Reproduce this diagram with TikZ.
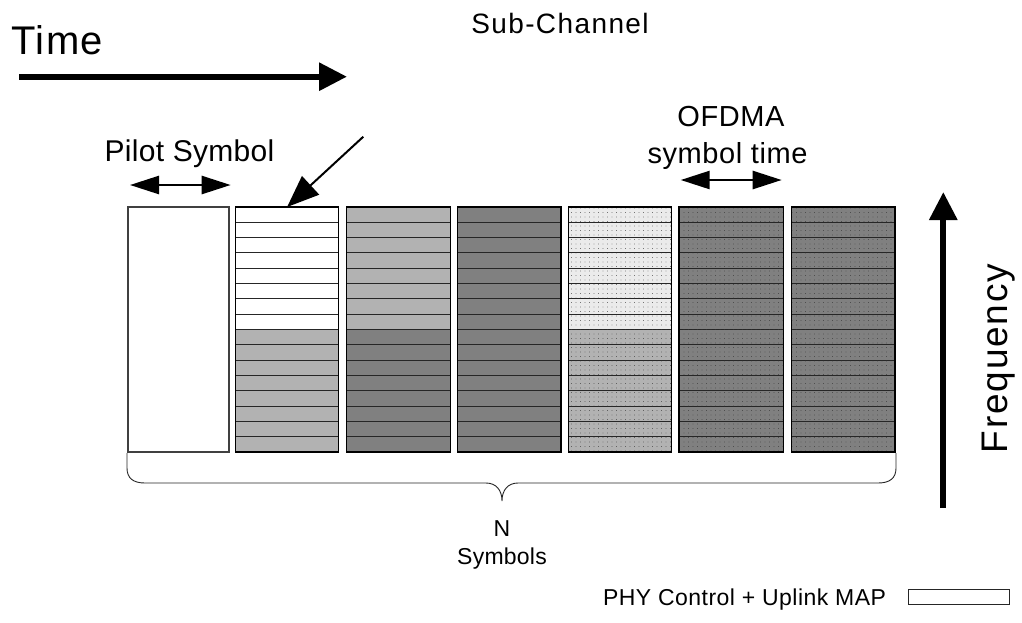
\documentclass[tikz,border=0pt]{standalone}
\usepackage{fontspec}
\setmainfont{Liberation Sans}
\usetikzlibrary{arrows.meta,patterns.meta}
\newcommand\fsz[2]{\fontsize{#1pt}{#1pt}\selectfont\addfontfeatures{LetterSpace=#2}}
\definecolor{gA}{gray}{0.70}
\definecolor{gB}{gray}{0.50}
\definecolor{gC}{gray}{0.92}
\newcommand\sh{15.3125}
\newcommand\stripecol[5]{%
  \foreach \k in {0,...,7}{\path[stripe,#4] (#2,{207+\k*\sh}) rectangle (#3,{207+(\k+1)*\sh});}
  \foreach \k in {8,...,15}{\path[stripe,#5] (#2,{207+\k*\sh}) rectangle (#3,{207+(\k+1)*\sh});}
  \node[colbox,minimum width={#3-#2},minimum height=245] (#1) at ({(#2+#3)/2},329.5) {};
}
\begin{document}
\begin{tikzpicture}[x=1pt,y=-1pt,
  every node/.style={inner sep=0,outer sep=0},
  stripe/.style={draw=black!85,line width=0.9},
  colbox/.style={draw=black,line width=1.2},
  sW/.style={fill=white},
  sA/.style={fill=gA},
  sB/.style={fill=gB},
  dots/.style={postaction={pattern={Dots[distance=4.5pt,radius=0.45pt]},pattern color=black!80}},
  dC/.style={fill=gC,dots},
  dA/.style={fill=gA,dots},
  dB/.style={fill=gB,dots},
  bigarrow/.style={line width=6,-{Triangle[length=28pt,width=27pt]}},
  dblarrow/.style={line width=2.5,{Triangle[length=29pt,width=18pt]}-{Triangle[length=29pt,width=18pt]}},
  lbl/.style={anchor=base}]
\useasboundingbox (0,0) rectangle (1022,622);
\fill[white] (0,0) rectangle (1022,622);

% pilot column
\node[draw=black!75,line width=1.2,fill=white,minimum width=101,minimum height=245] (pilot) at (178.5,329.5) {};
\stripecol{c1}{235.5}{338.7}{sW}{sA}
\stripecol{c2}{346.7}{450.3}{sA}{sB}
\stripecol{c3}{457.3}{561}{sB}{sB}
\stripecol{c4}{568.3}{671.3}{dC}{dA}
\stripecol{c5}{679}{783.3}{dB}{dB}
\stripecol{c6}{791.7}{895}{dB}{dB}

% texts
\node[anchor=base west,font=\fsz{40}{4}] (time) at (11,54) {Time};
\node[lbl,font=\fsz{28}{5}] (subch) at (560,33) {Sub-Channel};
\node[lbl,font=\fsz{30}{1}] (pilotlbl) at (189.5,161.7) {Pilot Symbol};
\node[lbl,font=\fsz{29}{2}] (ofdma) at (731,126.7) {OFDMA};
\node[lbl,font=\fsz{29}{2}] (symtime) at (727.5,163.3) {symbol time};
\node[lbl,font=\fsz{37}{5}, rotate=90] (freq) at (1007,358.5) {Frequency};
\node[lbl,font=\fsz{23}{1}] (nlbl) at (502,536.7) {N};
\node[lbl,font=\fsz{23}{1}] (symlbl) at (502,564) {Symbols};
\node[anchor=base east,font=\fsz{23}{2}] (legtxt) at (886,605) {PHY Control + Uplink MAP};
\node[draw=black!85,line width=1,minimum width=101,minimum height=15] (legbox) at (958.5,596.5) {};

% arrows
\coordinate (t0) at (19,76.7);
\coordinate (t1) at (347,76.7);
\draw[bigarrow] (t0) -- (t1);
\coordinate (f0) at (943.3,508);
\coordinate (f1) at (943.3,192);
\draw[bigarrow] (f0) -- (f1);
\coordinate (p0) at (130,185);
\coordinate (p1) at (230.7,185);
\draw[dblarrow] (p0) -- (p1);
\coordinate (o0) at (680.7,180);
\coordinate (o1) at (781.7,180);
\draw[dblarrow] (o0) -- (o1);
\coordinate (sc0) at (363.3,136.7);
\draw[line width=2,-{Triangle[length=32pt,width=25pt]}] (sc0) -- (c1.north);

% brace
\draw[line width=0.9,black!85] (127,453) -- (127,468) .. controls (127,478) and (133,483) .. (145,483)
  -- (486,483) .. controls (496,483) and (502,490) .. (502,501)
  .. controls (502,490) and (508,483) .. (518,483)
  -- (878,483) .. controls (890,483) and (896,478) .. (896,468) -- (896,453);
\end{tikzpicture}
\end{document}
